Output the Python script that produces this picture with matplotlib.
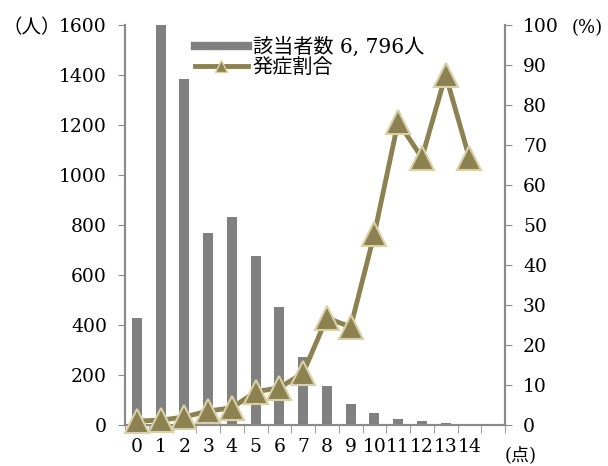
import matplotlib.pyplot as plt
from matplotlib.lines import Line2D

# score (点) 0..14
scores = list(range(15))
counts = [428, 1626, 1384, 768, 832, 676, 472, 272, 156, 84, 48, 24, 16, 8, 2]
onset_rate = [1.0, 1.2, 2.0, 3.5, 4.3, 8.3, 9.3, 13.0, 26.8, 24.5, 47.8, 75.8, 66.8, 87.5, 66.7]
bar_label = '該当者数 6, 796人'
line_label = '発症割合'

fam = ['DejaVu Serif', 'Noto Sans CJK JP']
plt.rcParams['font.family'] = fam
plt.rcParams['font.size'] = 13.5

bar_color = '#808080'
line_color = '#8c8150'
edge_color = '#d9d0a6'
axis_color = '#8a8a8a'

fig = plt.figure(figsize=(6.08, 4.66), dpi=100)
ax = fig.add_axes([125 / 608, 1 - 425 / 466, 380 / 608, 400 / 466])
ax2 = ax.twinx()

ax.bar(scores, counts, width=0.42, color=bar_color, zorder=2)
ax.set_xlim(-0.5, 15.5)
ax.set_ylim(0, 1600)
ax.set_yticks(range(0, 1601, 200))

ax2.plot(scores, onset_rate, color=line_color, lw=3.5, marker='^', ms=17,
         mfc=line_color, mec=edge_color, mew=1.5, clip_on=False, zorder=3)
ax2.set_ylim(0, 100)
ax2.set_yticks(range(0, 101, 10))

ax.set_xticks(scores)
ax.set_xticklabels([str(s) for s in scores])
ax.set_xticks([i - 0.5 for i in range(17)], minor=True)
ax.tick_params(axis='x', which='major', length=0, pad=9)
ax.tick_params(axis='x', which='minor', length=6, color=axis_color)
ax.tick_params(axis='y', length=5, color=axis_color, pad=8)
ax2.tick_params(axis='y', length=5, color=axis_color, pad=8)

for a in (ax, ax2):
    a.spines['top'].set_visible(False)
    for s in ('left', 'right', 'bottom'):
        a.spines[s].set_color(axis_color)
        a.spines[s].set_linewidth(1.5)

ax.set_zorder(ax2.get_zorder() - 1)
ax2.patch.set_visible(False)
ax.patch.set_visible(False)

fig.text(3 / 608, 1 - 28 / 466, '（人）', ha='left', va='center', family=fam, fontsize=14)
fig.text(572 / 608, 1 - 28 / 466, '(%)', ha='left', va='center', family=fam, fontsize=13)
fig.text(505 / 608, 1 - 455 / 466, '(点)', ha='left', va='center', family=fam, fontsize=13)

handles = [
    Line2D([], [], color=bar_color, lw=6),
    Line2D([], [], color=line_color, lw=3.5, marker='^', ms=9, mfc=line_color, mec=edge_color),
]
ax.legend(handles, [bar_label, line_label], loc='upper left', bbox_to_anchor=(0.137, 1.015),
          frameon=False, handlelength=2.6, handletextpad=0.25, labelspacing=0.05,
          prop={'family': fam, 'size': 14.5})

fig.savefig('out.png', dpi=100)
